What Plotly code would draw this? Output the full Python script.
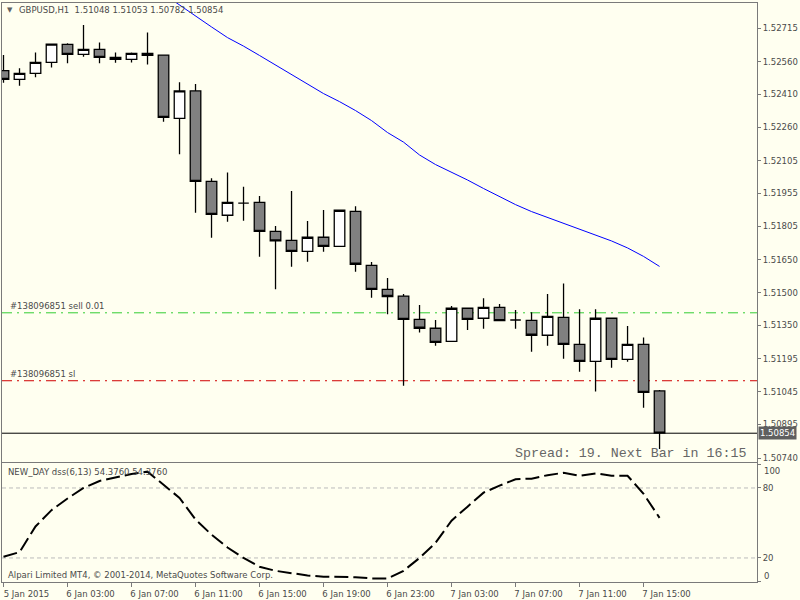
import pandas as pd
import plotly.graph_objects as go
from plotly.subplots import make_subplots

# ---------------- data ----------------
bar_times = [t.strftime("%Y-%m-%d %H:%M") for t in pd.date_range("2015-01-05 23:00", periods=42, freq="h")]

open_ = [1.52519, 1.52479, 1.52507, 1.52557, 1.52640, 1.52594, 1.52617, 1.52580, 1.52571, 1.52599,
         1.52591, 1.52300, 1.52426, 1.52011, 1.51855, 1.51911, 1.51914, 1.51781, 1.51740, 1.51689,
         1.51754, 1.51712, 1.51873, 1.51625, 1.51515, 1.51484, 1.51377, 1.51336, 1.51276, 1.51428,
         1.51382, 1.51432, 1.51374, 1.51372, 1.51304, 1.51386, 1.51262, 1.51184, 1.51382, 1.51193,
         1.51262, 1.51048]
high = [1.52591, 1.52530, 1.52603, 1.52643, 1.52645, 1.52729, 1.52649, 1.52603, 1.52603, 1.52695,
        1.52592, 1.52466, 1.52458, 1.52025, 1.52052, 1.51986, 1.51943, 1.51806, 1.51966, 1.51829,
        1.51879, 1.51879, 1.51897, 1.51640, 1.51567, 1.51493, 1.51443, 1.51374, 1.51438, 1.51429,
        1.51474, 1.51447, 1.51420, 1.51409, 1.51493, 1.51542, 1.51423, 1.51423, 1.51383, 1.51346,
        1.51294, 1.51053]
low = [1.52464, 1.52450, 1.52489, 1.52534, 1.52553, 1.52583, 1.52553, 1.52556, 1.52557, 1.52548,
       1.52285, 1.52135, 1.51867, 1.51752, 1.51825, 1.51830, 1.51665, 1.51515, 1.51619, 1.51642,
       1.51688, 1.51711, 1.51596, 1.51476, 1.51400, 1.51072, 1.51316, 1.51256, 1.51274, 1.51328,
       1.51334, 1.51370, 1.51334, 1.51228, 1.51256, 1.51196, 1.51136, 1.51045, 1.51155, 1.51182,
       1.50971, 1.50782]
close = [1.52479, 1.52507, 1.52557, 1.52641, 1.52594, 1.52617, 1.52580, 1.52571, 1.52599, 1.52590,
         1.52305, 1.52426, 1.52011, 1.51859, 1.51914, 1.51911, 1.51781, 1.51737, 1.51689, 1.51754,
         1.51712, 1.51878, 1.51630, 1.51515, 1.51482, 1.51377, 1.51336, 1.51271, 1.51428, 1.51377,
         1.51432, 1.51371, 1.51374, 1.51304, 1.51391, 1.51262, 1.51184, 1.51382, 1.51193, 1.51262,
         1.51042, 1.50854]

# moving average (visible from bar 9 on; earlier values are above the window)
ma_start = 9
ma_values = [1.52922, 1.52871, 1.52821, 1.52768, 1.52720, 1.52671, 1.52632, 1.52589, 1.52545, 1.52499,
             1.52456, 1.52414, 1.52377, 1.52336, 1.52290, 1.52235, 1.52191, 1.52132, 1.52088, 1.52054,
             1.52017, 1.51978, 1.51941, 1.51904, 1.51872, 1.51845, 1.51817, 1.51790, 1.51762, 1.51737,
             1.51705, 1.51666, 1.51620]

dss_values = [21, 25, 47, 61, 71, 80, 86, 89, 92, 94,
              82.5, 71.5, 53, 40, 29, 20, 12.5, 9, 7, 5,
              4, 4, 3.5, 2.5, 2.5, 9, 20, 33, 52, 64,
              76, 82, 87.5, 88, 91, 93, 90.5, 92.5, 90.5, 90.5,
              75, 54.376]
dss_levels = [80, 20]

order_price = 1.51407
sl_price = 1.51095
bid_price = 1.50854

price_ticks = [1.52715, 1.52560, 1.52410, 1.52260, 1.52105, 1.51955, 1.51805, 1.51650,
               1.51500, 1.51350, 1.51195, 1.51045, 1.50895, 1.50740]
dss_ticks = [100, 80, 20, 0]
dss_edge_ticks = [100, 0]
time_tick_every = 4
time_tick_labels = ["5 Jan 2015", "6 Jan 03:00", "6 Jan 07:00", "6 Jan 11:00", "6 Jan 15:00",
                    "6 Jan 19:00", "6 Jan 23:00", "7 Jan 03:00", "7 Jan 07:00", "7 Jan 11:00",
                    "7 Jan 15:00"]

# ---------------- styling ----------------
BG = "#FFFFF0"
FRAME = "#7a7a7a"
TXT = "#4a4a4a"
FONT = "DejaVu Sans"
FS = 8.5

fig = make_subplots(rows=2, cols=1, shared_xaxes=True)

fig.add_trace(go.Candlestick(
    x=bar_times, open=open_, high=high, low=low, close=close,
    increasing=dict(line=dict(color="black", width=1.3), fillcolor="white"),
    decreasing=dict(line=dict(color="black", width=1.3), fillcolor="#808080"),
    whiskerwidth=0, showlegend=False, hoverinfo="skip"), row=1, col=1)

fig.add_trace(go.Scatter(
    x=bar_times[ma_start:], y=ma_values, mode="lines",
    line=dict(color="#0000FF", width=1), showlegend=False, hoverinfo="skip"), row=1, col=1)

fig.add_trace(go.Scatter(
    x=bar_times, y=dss_values, mode="lines",
    line=dict(color="black", width=2, dash="14px,5px"), showlegend=False, hoverinfo="skip"),
    row=2, col=1)

# order / stop-loss / bid lines (drawn beneath the candles)
fig.add_hline(y=order_price, line=dict(color="#32CD32", width=1, dash="10px,5px,2px,5px"),
              layer="below", row=1, col=1)
fig.add_hline(y=sl_price, line=dict(color="#D00000", width=1, dash="10px,5px,2px,5px"),
              layer="below", row=1, col=1)
fig.add_hline(y=bid_price, line=dict(color="black", width=1), layer="below", row=1, col=1)
for lv in dss_levels:
    fig.add_hline(y=lv, line=dict(color="#BBBBBB", width=1, dash="4px,3px"), layer="below", row=2, col=1)

n_slots = 47.09
fig.update_layout(
    width=800, height=600,
    margin=dict(l=2, r=43, t=3, b=18, autoexpand=False),
    paper_bgcolor=BG, plot_bgcolor=BG,
    boxgap=0.2, boxgroupgap=0.175,
    font=dict(family=FONT, size=FS, color=TXT),
    showlegend=False,
)

xr = [-0.094, n_slots]
fig.update_xaxes(type="category", range=xr, showgrid=False, zeroline=False,
                 showline=True, mirror=True, linecolor=FRAME, linewidth=1,
                 rangeslider=dict(visible=False))
fig.update_xaxes(row=1, col=1, ticks="", showticklabels=False)
fig.update_xaxes(row=2, col=1, ticks="outside", ticklen=4, tickcolor=FRAME,
                 tickvals=bar_times[::time_tick_every], ticktext=time_tick_labels,
                 ticklabelshift=23, tickfont=dict(family=FONT, size=FS, color=TXT))

fig.update_yaxes(row=1, col=1, domain=[0.2081, 1.0], range=[1.50724, 1.52830], side="right",
                 showgrid=False, zeroline=False, showline=True, mirror=True,
                 linecolor=FRAME, linewidth=1, ticks="outside", ticklen=3, tickcolor=FRAME,
                 tickvals=price_ticks, ticktext=[f"{p:.5f}" for p in price_ticks],
                 tickfont=dict(family=FONT, size=FS, color=TXT))
fig.update_yaxes(row=2, col=1, domain=[0.0, 0.2047], range=[-0.6, 101], side="right",
                 showgrid=False, zeroline=False, showline=True, mirror=True,
                 linecolor=FRAME, linewidth=1, ticks="outside", ticklen=3, tickcolor=FRAME,
                 tickvals=dss_ticks,
                 ticktext=["" if v in dss_edge_ticks else str(v) for v in dss_ticks],
                 tickfont=dict(family=FONT, size=FS, color=TXT))

# ---------------- texts ----------------
def px_x(px):
    return (px - 2) / 755.0

def px_y(py):
    return (582 - py) / 579.0

# edge labels of the indicator scale are drawn inside the window, as MT4 does
for v, shift in zip(dss_edge_ticks, [-6, 5]):
    fig.add_annotation(xref="paper", yref="y2", x=px_x(762), y=v, xanchor="left", yanchor="middle",
                       yshift=shift, text=str(v), showarrow=False,
                       font=dict(family=FONT, size=FS, color=TXT))

fig.add_annotation(xref="paper", yref="paper", x=px_x(5), y=px_y(10), xanchor="left", yanchor="middle",
                   text="\u25BC", showarrow=False, font=dict(size=7, color="#606060"))
fig.add_annotation(xref="paper", yref="paper", x=px_x(17), y=px_y(10), xanchor="left", yanchor="middle",
                   text="GBPUSD,H1\u00a0\u00a01.51048 1.51053 1.50782 1.50854", showarrow=False,
                   font=dict(family=FONT, size=FS, color=TXT))
fig.add_annotation(xref="paper", yref="y", x=px_x(8), y=order_price, xanchor="left", yanchor="bottom",
                   text="#138096851 sell 0.01", showarrow=False, yshift=0,
                   font=dict(family=FONT, size=FS, color=TXT))
fig.add_annotation(xref="paper", yref="y", x=px_x(8), y=sl_price, xanchor="left", yanchor="bottom",
                   text="#138096851 sl", showarrow=False, yshift=0,
                   font=dict(family=FONT, size=FS, color=TXT))
fig.add_annotation(xref="paper", yref="paper", x=px_x(748), y=px_y(453), xanchor="right", yanchor="middle",
                   text="Spread: 19. Next Bar in 16:15", showarrow=False,
                   font=dict(family="Liberation Mono", size=13.3, color="#666666"))
fig.add_annotation(xref="paper", yref="y", x=px_x(758), y=bid_price, xanchor="left", yanchor="middle",
                   text="1.50854", showarrow=False, bgcolor="#5f5f5f", borderpad=1,
                   font=dict(family=FONT, size=FS, color="white"))
fig.add_annotation(xref="paper", yref="paper", x=px_x(6), y=px_y(472), xanchor="left", yanchor="middle",
                   text="NEW_DAY dss(6,13) 54.3760 54.3760", showarrow=False,
                   font=dict(family=FONT, size=FS, color=TXT))
fig.add_annotation(xref="paper", yref="paper", x=px_x(6), y=px_y(575), xanchor="left", yanchor="middle",
                   text="Alpari Limited MT4, \u00a9 2001-2014, MetaQuotes Software Corp.", showarrow=False,
                   font=dict(family=FONT, size=FS, color=TXT))

fig.write_html("out.html")
